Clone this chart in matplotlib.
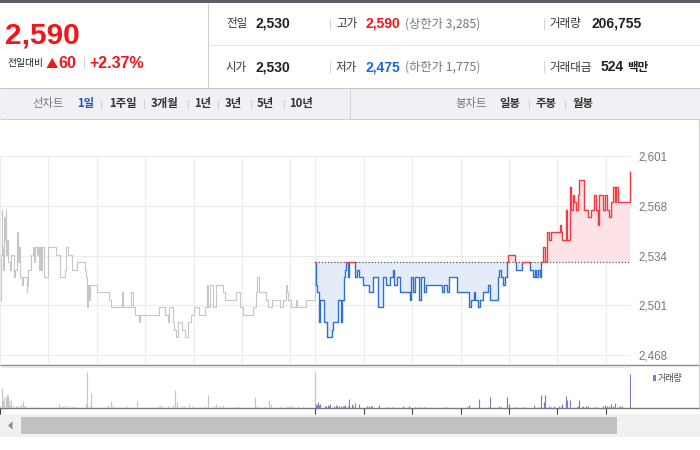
import matplotlib
matplotlib.use("Agg")
import matplotlib.pyplot as plt
from matplotlib.patches import Rectangle, Polygon

plt.rcParams['font.family'] = ['Noto Sans CJK KR', 'DejaVu Sans']
NUM = ['Liberation Sans', 'DejaVu Sans']

# ---- data (minutes from 9:00, price change points; step data) ----
PREV_CLOSE = 2530
prev_min = [0, 1, 2, 3, 4, 5, 6, 7, 8, 9, 10, 12, 14, 17, 19, 21, 22, 24, 25, 27, 29, 33, 34, 35,
            39, 41, 42, 44, 46, 47, 48, 49, 51, 52, 54, 60, 70, 74, 81, 82, 84, 89, 95, 105, 107,
            108, 109, 110, 112, 120, 135, 138, 151, 153, 162, 165, 167, 172, 174, 197, 204, 208,
            209, 215, 216, 218, 221, 225, 229, 233, 237, 240, 247, 254, 256, 258, 260, 264, 268,
            277, 279, 293, 297, 301, 314, 317, 319, 321, 330, 332, 337, 347, 351, 354, 356, 357,
            361, 367, 368, 379, 390]
prev_px = [2505, 2535, 2565, 2540, 2525, 2560, 2545, 2565, 2535, 2545, 2530, 2525, 2535, 2520,
           2525, 2550, 2530, 2540, 2520, 2515, 2520, 2510, 2515, 2525, 2535, 2540, 2530, 2540,
           2535, 2540, 2525, 2540, 2525, 2540, 2520, 2540, 2535, 2520, 2525, 2540, 2535, 2525,
           2530, 2525, 2520, 2500, 2515, 2505, 2515, 2510, 2505, 2500, 2510, 2500, 2510, 2500,
           2495, 2490, 2495, 2500, 2495, 2490, 2500, 2490, 2485, 2480, 2490, 2485, 2480, 2490,
           2495, 2500, 2495, 2500, 2515, 2500, 2515, 2500, 2515, 2510, 2505, 2510, 2500, 2495,
           2500, 2510, 2520, 2510, 2505, 2500, 2505, 2500, 2505, 2515, 2510, 2505, 2500, 2505,
           2500, 2505, 2530]
today_min = [0, 1, 2, 4, 6, 11, 14, 20, 22, 28, 32, 33, 35, 37, 38, 41, 42, 49, 52, 54, 59, 67,
             71, 78, 84, 88, 93, 96, 98, 101, 105, 117, 118, 121, 124, 128, 131, 134, 137, 157,
             159, 163, 165, 176, 190, 193, 196, 198, 202, 204, 208, 214, 216, 226, 228, 230, 233,
             235, 237, 239, 247, 249, 256, 266, 270, 272, 274, 276, 278, 280, 282, 285, 287, 290,
             292, 303, 304, 306, 311, 312, 316, 317, 319, 321, 323, 325, 327, 333, 338, 342, 345,
             348, 350, 352, 357, 359, 362, 364, 367, 369, 371, 373, 375, 390]
today_px = [2530, 2515, 2510, 2490, 2505, 2490, 2480, 2485, 2490, 2505, 2490, 2505, 2520, 2525,
            2530, 2520, 2530, 2520, 2525, 2520, 2515, 2510, 2520, 2500, 2520, 2515, 2520, 2525,
            2515, 2520, 2510, 2505, 2520, 2510, 2520, 2505, 2520, 2510, 2515, 2510, 2515, 2510,
            2520, 2510, 2500, 2505, 2510, 2505, 2500, 2505, 2510, 2515, 2505, 2520, 2525, 2520,
            2515, 2520, 2530, 2535, 2530, 2525, 2530, 2525, 2520, 2525, 2520, 2525, 2520, 2530,
            2540, 2530, 2550, 2545, 2550, 2555, 2550, 2545, 2565, 2545, 2580, 2565, 2575, 2570,
            2565, 2575, 2585, 2565, 2560, 2565, 2575, 2565, 2555, 2575, 2565, 2575, 2565, 2560,
            2570, 2580, 2570, 2580, 2570, 2590]
prev_vol_min = [0, 2, 3, 4, 5, 7, 8, 9, 10, 11, 12, 14, 16, 20, 21, 23, 26, 28, 30, 31, 46, 60, 73,
                76, 78, 81, 84, 87, 90, 96, 107, 108, 111, 113, 134, 137, 140, 147, 158, 170, 197,
                199, 208, 215, 217, 219, 220, 225, 228, 234, 238, 254, 258, 265, 268, 271, 273,
                277, 285, 290, 293, 296, 316, 319, 328, 333, 336, 347, 354, 357, 359, 361, 363,
                369, 376, 390]
prev_vol = [2.3, 2.3, 20.3, 7, 11.3, 3, 11.3, 13.3, 13.3, 8, 3, 8.3, 1.7, 1.7, 1.7, 2.3, 3.7, 7.3,
            2.3, 1.7, 1.3, 1.3, 3.7, 1.3, 1.7, 2.7, 1.7, 1.3, 1.7, 1.3, 4.3, 36.3, 2.3, 15.3, 2.7,
            7.3, 3.3, 1.3, 1.7, 7.3, 1.7, 2.7, 1.7, 2.7, 18.3, 2.7, 6.3, 1.7, 1.7, 4.3, 1.7, 1.7,
            12.7, 1.7, 3.7, 1.3, 1.7, 2.7, 1.3, 1.3, 1.3, 1.7, 11.3, 1.7, 1.7, 8.3, 3.7, 1.7, 1.7,
            1.7, 1.7, 1.7, 1.7, 1.7, 1.7, 36.3]
today_vol_min = [1, 2, 3, 5, 6, 12, 13, 15, 17, 18, 23, 25, 27, 29, 32, 34, 36, 37, 40, 42, 45, 47,
                 49, 54, 64, 66, 69, 70, 79, 89, 95, 109, 116, 123, 130, 134, 162, 188, 190, 191,
                 203, 214, 217, 227, 228, 230, 237, 238, 240, 247, 258, 271, 277, 280, 283, 285,
                 289, 292, 296, 302, 304, 306, 311, 312, 316, 324, 325, 327, 330, 332, 335, 336,
                 338, 347, 349, 356, 359, 362, 364, 367, 369, 371, 376, 378, 380, 390]
today_vol = [4.3, 3, 5.7, 3, 4.3, 2.3, 2.3, 3.3, 2.3, 4, 2.3, 3, 1.7, 1.7, 2.3, 2.3, 1.7, 2.7, 1.7,
             9.3, 4.3, 1.7, 5.3, 4.3, 2.3, 1.7, 1.7, 1.7, 3.3, 1.3, 1.3, 2.3, 2.3, 1.3, 1.3, 1.3,
             1.3, 1.3, 2.3, 3.3, 9.3, 1.3, 10.7, 2.3, 1.3, 1.3, 4, 11.3, 3.7, 1.3, 1.3, 3.3, 1.3,
             12.7, 6.3, 13.3, 2.3, 1.3, 1.7, 1.7, 1.3, 4.3, 12.3, 7.7, 8.3, 1.3, 1.7, 7.7, 1.3,
             1.7, 1.7, 1.7, 2.3, 1.3, 1.3, 1.7, 3.3, 1.7, 1.7, 4.3, 1.7, 4.7, 1.3, 2.3, 1.7, 34.3]
y_ticks = [2468, 2501.25, 2534.5, 2567.75, 2601]
y_labels = ["2,468", "2,501", "2,534", "2,568", "2,601"]
hour_marks = [0, 60, 120, 180, 240, 300, 360]

OFF = 391          # today's 9:00 on the shared minute axis
XMAX = 781.6
RED = "#f4141a"; LRED = "#f23a40"; BLUE = "#2f6fd6"; GRAYL = "#c6c6c6"; PURP = "#8f74c9"; GRID = "#ececec"

W, H = 700, 450
fig = plt.figure(figsize=(7, 4.5), dpi=100)
fig.patch.set_facecolor("white")
ui = fig.add_axes([0, 0, 1, 1], zorder=0)
ui.set_xlim(0, W); ui.set_ylim(H, 0); ui.axis("off")


def box(x0, y0, x1, y1, c):
    ui.add_patch(Rectangle((x0, y0), x1 - x0, y1 - y0, facecolor=c, edgecolor="none", lw=0))


def seg(x0, y0, x1, y1, c, lw=0.75):
    ui.plot([x0, x1], [y0, y1], color=c, lw=lw, solid_capstyle="butt")


def txt(x, y, s, size, c="#333333", weight="normal", fam=None, ha="left"):
    ui.text(x, y, s, fontsize=size, color=c, fontweight=weight, ha=ha, va="center",
            family=fam if fam else ['Noto Sans CJK KR', 'DejaVu Sans'])


# ---- header ----
box(0, 0, W, 3, "#5c6068")
seg(208, 3, 208, 88, "#cfcfcf")
seg(208, 45, W, 45, "#e6e6e6")
txt(5.5, 35, "2,590", 21.5, RED, "bold", NUM)
txt(7, 63, "전일대비", 7, "#222222")
ui.add_patch(Polygon([(46.5, 68), (58, 68), (52.2, 58)], closed=True, facecolor=RED, edgecolor="none"))
txt(58, 63, "60", 11.5, RED, "bold", NUM)
seg(83.5, 57, 83.5, 69, "#d5d5d5")
txt(89, 63, "+2.37%", 11.5, RED, "bold", NUM)
for yy, (l1, v1, l2, v2, c2, lim, l3, v3) in zip(
        [24, 67],
        [("전일", "2,530", "고가", "2,590", RED, "(상한가 3,285)", "거래량", "206,755"),
         ("시가", "2,530", "저가", "2,475", "#1f66d6", "(하한가 1,775)", "거래대금", "524")]):
    txt(226, yy, l1, 8.3, "#333333")
    txt(256, yy, v1, 10, "#222222", "bold", NUM)
    seg(330, yy - 6, 330, yy + 6, "#d5d5d5")
    txt(336, yy, l2, 8.3, "#333333")
    txt(366, yy, v2, 10, c2, "bold", NUM)
    txt(405, yy, lim, 8.8, "#777777")
    seg(544, yy - 6, 544, yy + 6, "#d5d5d5")
    txt(549, yy, l3, 8.3, "#333333")
    txt(591 if v3 != "524" else 601, yy, v3, 10, "#222222", "bold", NUM)
txt(627, 67, "백만", 8.3, "#222222", "bold")
seg(0, 88, W, 88, "#c2c6cc")

# ---- period toolbar ----
box(0, 88.5, W, 119, "#eff1f5")
seg(0, 119, W, 119, "#cdd0d5")
seg(350, 88.5, 350, 119, "#d3d6db")
txt(32, 104, "선차트", 8.2, "#777777")
txt(77, 104, "1일", 8.2, "#2a55b0", "bold")
for xs, lab in [(109, "1주일"), (151, "3개월"), (194, "1년"), (225, "3년"), (257, "5년"), (289, "10년")]:
    txt(xs, 104, lab, 8.2, "#333333", "bold")
for xs in [101, 144, 187.5, 218, 251, 284, 529, 565]:
    seg(xs, 99, xs, 109, "#cfd2d8")
txt(455, 104, "봉차트", 8.2, "#777777")
for xs, lab in [(499, "일봉"), (536, "주봉"), (572, "월봉")]:
    txt(xs, 104, lab, 8.2, "#333333", "bold")

# ---- price panel ----
ax = fig.add_axes([0, (H - 365) / H, 630.5 / W, (365 - 156) / H], zorder=1)
ax.set_facecolor("none")
ax.set_xlim(0, XMAX); ax.set_ylim(2461.4, 2601)
for s in ax.spines.values():
    s.set_visible(False)
ax.vlines(hour_marks + [m + OFF for m in hour_marks], 2461.4, 2601, color=GRID, lw=0.8, zorder=0)
ax.hlines(y_ticks, 0, XMAX, color=GRID, lw=0.8, zorder=0, clip_on=False)
ax.set_xticks([])
ax.yaxis.tick_right()
ax.set_yticks(y_ticks)
ax.set_yticklabels(y_labels, family=NUM)
ax.tick_params(axis="y", length=0, pad=6, labelsize=8.3, labelcolor="#777777")

ax.plot(prev_min, prev_px, drawstyle="steps-post", color=GRAYL, lw=0.8, zorder=3)

tx = [m + OFF for m in today_min]
up = Rectangle((0, PREV_CLOSE - 0.6), 2000, 200, transform=ax.transData)
dn = Rectangle((0, PREV_CLOSE - 200), 2000, 200 - 0.6, transform=ax.transData)
upf = Rectangle((0, PREV_CLOSE), 2000, 200, transform=ax.transData)
dnf = Rectangle((0, PREV_CLOSE - 200), 2000, 200, transform=ax.transData)
f1 = ax.fill_between(tx, today_px, PREV_CLOSE, step="post", color="#fde3e5", lw=0, zorder=1)
f1.set_clip_path(upf)
f2 = ax.fill_between(tx, today_px, PREV_CLOSE, step="post", color="#e4ecf8", lw=0, zorder=1)
f2.set_clip_path(dnf)
ax.hlines(PREV_CLOSE, tx[0], tx[-1], color="#555555", lw=0.9, linestyles=(0, (1, 1.5)), zorder=2)
l1, = ax.plot(tx, today_px, drawstyle="steps-post", color=LRED, lw=1.0, zorder=4)
l1.set_clip_path(up)
l2, = ax.plot(tx, today_px, drawstyle="steps-post", color=BLUE, lw=1.0, zorder=4)
l2.set_clip_path(dn)

# ---- volume panel ----
seg(0, 365, W, 365, "#8c8c8c", 1.0)
seg(0, 367, 630, 367, "#e8e8e8")
vax = fig.add_axes([0, (H - 408) / H, 630.5 / W, (408 - 367) / H], zorder=1)
vax.set_facecolor("none")
vax.set_xlim(0, XMAX); vax.set_ylim(0, 41)
for s in vax.spines.values():
    s.set_visible(False)
vax.vlines(prev_vol_min, 0, prev_vol, color=GRAYL, lw=0.85)
vax.vlines([m + OFF for m in today_vol_min], 0, today_vol, color=PURP, lw=0.85)
vax.set_xticks([0] + [m + OFF for m in hour_marks])
vax.set_yticks([])
vax.tick_params(axis="x", direction="out", length=4.5, width=0.8, color="#444444", labelbottom=False)
seg(0, 408, W, 408, "#7a7a7a", 1.0)
box(653, 375, 655.5, 381, PURP)
txt(658, 378, "거래량", 6.5, "#444444")

# right border
seg(698.5, 119, 698.5, 408, "#d0d0d0")

# ---- scrollbar ----
box(0, 414, W, 437, "#f1f1f1")
box(21, 417, 617, 433.5, "#c1c1c1")
ui.add_patch(Polygon([(8, 425.5), (12.5, 421.5), (12.5, 429.5)], closed=True, facecolor="#8a8a8a", edgecolor="none"))

fig.savefig("out.png", dpi=100, facecolor="white")
